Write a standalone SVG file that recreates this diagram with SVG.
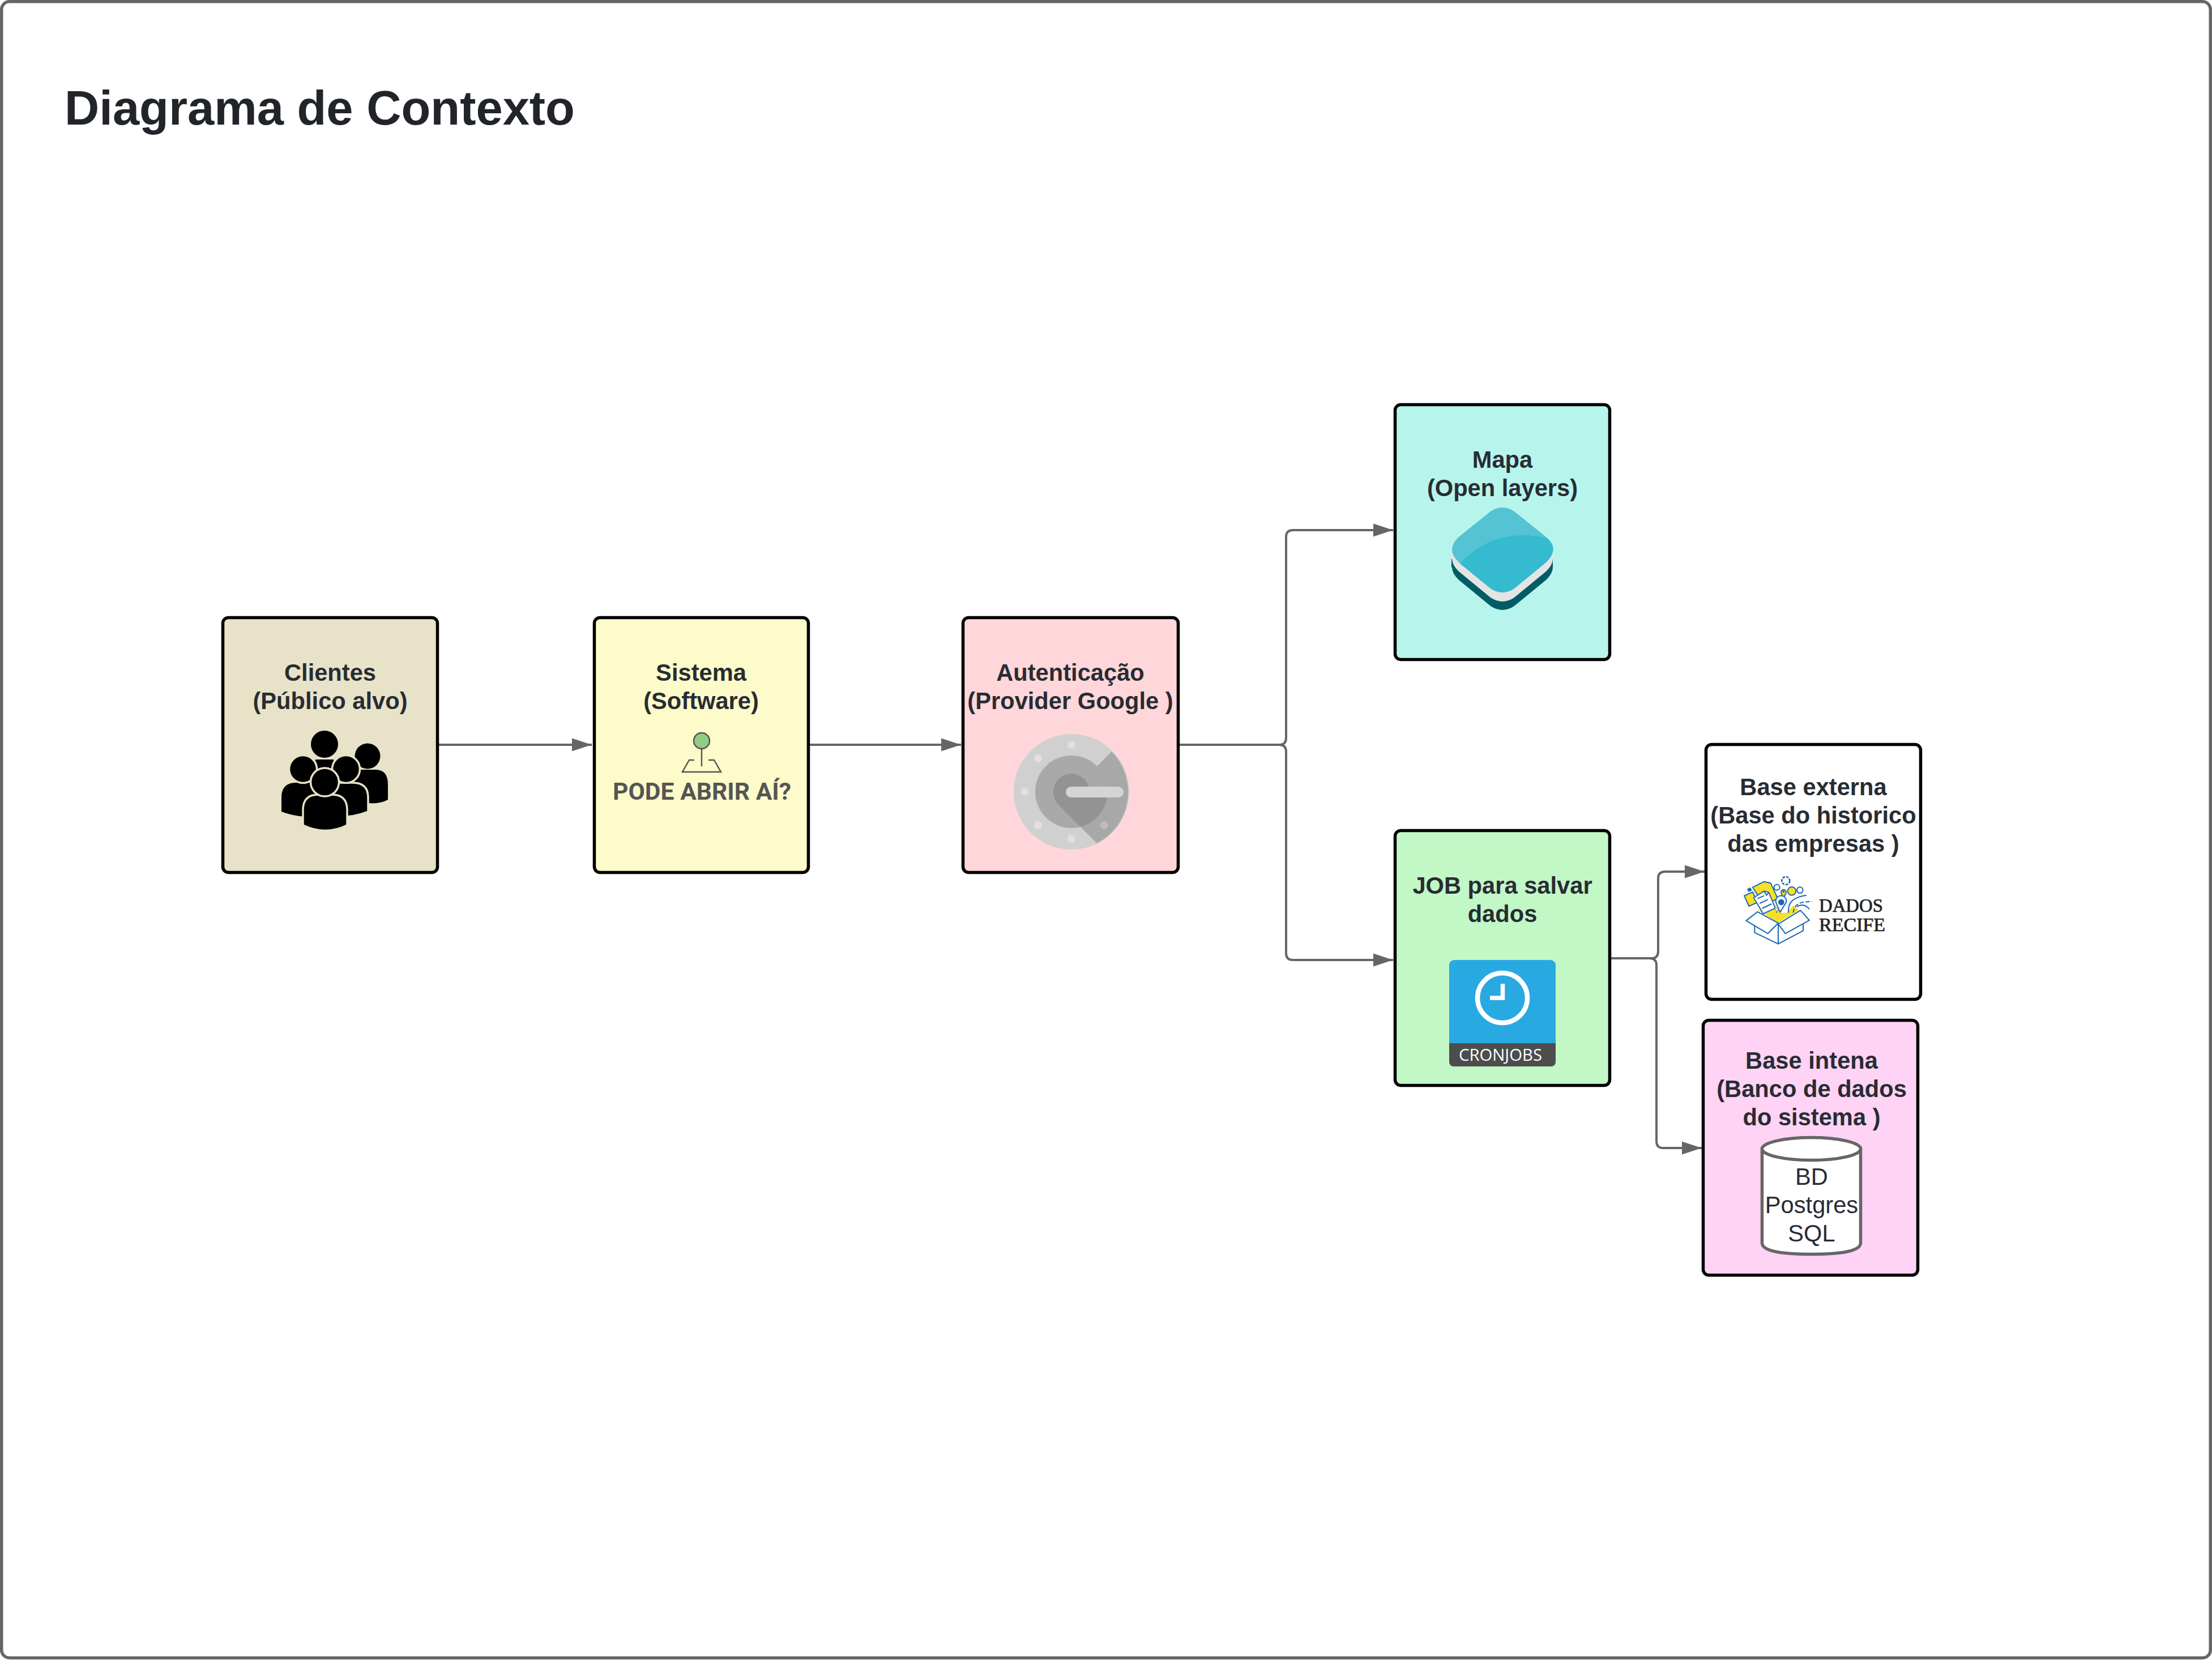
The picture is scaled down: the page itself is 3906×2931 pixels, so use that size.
<svg xmlns="http://www.w3.org/2000/svg" width="3906" height="2931" viewBox="0 0 3906 2931">
<defs>
<style>
.box{stroke:#000;stroke-width:5.5}
.lbl{font:bold 41.67px "Liberation Sans",Arial,sans-serif;fill:#282c33;text-anchor:middle}
.reg{font:41.67px "Liberation Sans",Arial,sans-serif;fill:#282c33;text-anchor:middle}
.conn{fill:none;stroke:#666;stroke-width:4}
.arrowhead{fill:#666}
.lb{fill:none;stroke:#1c66b3;stroke-width:6}
.lbw{fill:#fff;stroke:#1c66b3;stroke-width:6;stroke-linejoin:round}
.lby{fill:#f7e025;stroke:#1c66b3;stroke-width:6;stroke-linejoin:round}
.ppl{fill:#000}
.pplo{fill:#000;stroke:#e8e3c8;stroke-width:3.5}
.dot{fill:#e0e0e0}
.slab{font:33px 'Liberation Serif',serif;fill:#222;stroke:#222;stroke-width:0.7}
</style>
<marker id="arrow" markerUnits="userSpaceOnUse" markerWidth="36" markerHeight="24" refX="35" refY="12" orient="auto"><path class="arrowhead" d="M0 0.5L35 12L0 23.5Z"/></marker>
</defs>
<rect width="3906" height="2931" fill="#fff"/>
<g id="frame"><rect x="2.75" y="2.75" width="3900.500" height="2924.500" rx="14" fill="#fff" stroke="#666" stroke-width="5.500"/></g>
<text id="title" x="114" y="220" style="font:bold 84.9px 'Liberation Sans',Arial,sans-serif;fill:#212529">Diagrama de Contexto</text>

<g id="connectors">
<path class="conn" d="M775 1315H1045" marker-end="url(#arrow)"/>
<path class="conn" d="M1430 1315H1697" marker-end="url(#arrow)"/>
<path class="conn" d="M2083 1315H2259Q2271 1315 2271 1303V948Q2271 936 2283 936H2460" marker-end="url(#arrow)"/>
<path class="conn" d="M2083 1315H2259Q2271 1315 2271 1327V1683Q2271 1695 2283 1695H2460" marker-end="url(#arrow)"/>
<path class="conn" d="M2845 1692H2916Q2928 1692 2928 1680V1551Q2928 1539 2940 1539H3010" marker-end="url(#arrow)"/>
<path class="conn" d="M2845 1692H2913Q2925 1692 2925 1704V2015Q2925 2027 2937 2027H3005" marker-end="url(#arrow)"/>
</g>

<g id="node-clientes">
<rect class="box" x="393.5" y="1090.5" width="379" height="450" rx="10" fill="#e8e3c8"/>
<text class="lbl" x="583" y="1202">Clientes</text>
<text class="lbl" x="583" y="1252">(Público alvo)</text>
<g id="icon-people">
<circle class="ppl" cx="573" cy="1314" r="24"/>
<path class="ppl" d="M557 1341H589L593 1362H553Z"/>
<circle class="ppl" cx="649" cy="1335" r="22.500"/>
<path class="ppl" d="M610 1412V1380Q610 1359 632 1359H663Q685 1359 685 1385V1412Q670 1420 650 1418Z"/>
<path class="ppl" d="M497 1433V1408Q497 1382 523 1382H553Q575 1382 575 1405V1441Q530 1446 497 1433Z"/>
<circle class="pplo" cx="535" cy="1358" r="24.500"/>
<path class="pplo" d="M572 1441V1405Q572 1382 595 1382H623Q650 1382 650 1408V1433Q615 1447 572 1441Z"/>
<circle class="pplo" cx="611" cy="1358" r="24.500"/>
<path class="pplo" d="M535 1457V1430Q535 1403 562 1403H586Q613 1403 613 1430V1457Q575 1476 535 1457Z"/>
<circle class="pplo" cx="573.500" cy="1381" r="25"/>
</g>
</g>

<g id="node-sistema">
<rect class="box" x="1049.500" y="1090.5" width="378" height="450" rx="10" fill="#fdfbc9"/>
<text class="lbl" x="1238" y="1202">Sistema</text>
<text class="lbl" x="1238" y="1252">(Software)</text>
<g id="icon-pode">
<path d="M1239 1322V1353" fill="none" stroke="#555" stroke-width="2.500"/>
<path d="M1226 1342H1217L1205 1363H1273L1261 1342H1251" fill="none" stroke="#555" stroke-width="2.500"/>
<circle cx="1239" cy="1308" r="14" fill="#93cc85" stroke="#555" stroke-width="2.500"/>
<text x="1082" y="1412" textLength="315" lengthAdjust="spacingAndGlyphs" style="font:bold 42px Roboto,'Liberation Sans',sans-serif;fill:#555">PODE ABRIR AÍ?</text>
</g>
</g>

<g id="node-autenticacao">
<rect class="box" x="1700.500" y="1090.5" width="380" height="450" rx="10" fill="#ffd6d9"/>
<text class="lbl" x="1890" y="1202">Autenticação</text>
<text class="lbl" x="1890" y="1252">(Provider Google )</text>
<g id="icon-google">
<circle cx="1892" cy="1398" r="102" fill="#d0d0d0"/>
<path d="M1963 1327A102 102 0 0 1 1937 1489L1892 1444V1398Z" fill="#a8a8a8"/>
<circle cx="1892" cy="1398" r="64" fill="#a9a9a9"/>
<path d="M1892 1366A32 32 0 0 0 1860 1398Q1860 1412 1870 1422L1908 1460A64 64 0 0 0 1955 1407V1398H1924A32 32 0 0 0 1892 1366Z" fill="#939393"/>
<rect x="1882" y="1389" width="102" height="19" rx="9.500" fill="#d4d4d4"/>
<circle class="dot" cx="1892" cy="1315" r="7"/>
<circle class="dot" cx="1833" cy="1339" r="7"/>
<circle class="dot" cx="1809" cy="1398" r="7"/>
<circle class="dot" cx="1833" cy="1457" r="7"/>
<circle class="dot" cx="1892" cy="1481" r="7"/>
<circle cx="1950" cy="1457" r="7" fill="#bcbcbc"/>
</g>
</g>

<g id="node-mapa">
<rect class="box" x="2463.500" y="714.5" width="379" height="450" rx="10" fill="#b7f5ec"/>
<text class="lbl" x="2653" y="826">Mapa</text>
<text class="lbl" x="2653" y="876">(Open layers)</text>
<g id="icon-layers">
<g transform="translate(0,31)" fill="#025c66"><path d="M2632 903Q2653 889 2674 903L2730 948Q2754 970 2730 993L2674 1039Q2653 1053 2632 1039L2576 993Q2552 970 2576 948Z"/></g>
<rect x="2563" y="971" width="179" height="31" fill="#025c66"/>
<rect x="2563" y="971" width="179" height="16" fill="#e3e5e5"/>
<g transform="translate(0,16)" fill="#e3e5e5"><path d="M2632 903Q2653 889 2674 903L2730 948Q2754 970 2730 993L2674 1039Q2653 1053 2632 1039L2576 993Q2552 970 2576 948Z"/></g>
<path fill="#54c3d3" d="M2632 903Q2653 889 2674 903L2730 948Q2754 970 2730 993L2674 1039Q2653 1053 2632 1039L2576 993Q2552 970 2576 948Z"/>
<path fill="#35bacf" d="M2578 995Q2625 945 2690 945Q2715 945 2733 951Q2754 970 2730 993L2674 1039Q2653 1053 2632 1039Z"/>
</g>
</g>

<g id="node-job">
<rect class="box" x="2463.500" y="1466.5" width="379" height="450" rx="10" fill="#c2f7c6"/>
<text class="lbl" x="2653" y="1578">JOB para salvar</text>
<text class="lbl" x="2653" y="1628">dados</text>
<g id="icon-cron">
<rect x="2559" y="1695" width="188" height="188" rx="9" fill="#29a9e1"/>
<path d="M2559 1842H2747V1874Q2747 1883 2738 1883H2568Q2559 1883 2559 1874Z" fill="#4d4d4d"/>
<circle cx="2653" cy="1762" r="44" fill="none" stroke="#fff" stroke-width="8.500"/>
<path d="M2653.500 1737V1762H2631" fill="none" stroke="#fff" stroke-width="7.500"/>
<text x="2576" y="1873" textLength="147" lengthAdjust="spacingAndGlyphs" style="font:29px 'Open Sans','Liberation Sans',sans-serif;fill:#fff">CRONJOBS</text>
</g>
</g>

<g id="node-base-externa">
<rect class="box" x="3012.500" y="1314.5" width="379" height="450" rx="10" fill="#fff"/>
<text class="lbl" x="3202" y="1404">Base externa</text>
<text class="lbl" x="3202" y="1454">(Base do historico</text>
<text class="lbl" x="3202" y="1504">das empresas )</text>
<g id="icon-dados">
<g transform="translate(3060,1530) scale(0.3333)">
<path fill="#f7e025" d="M135 232L240 298L350 230L320 205L285 245L255 245L225 205Z"/>
<path class="lby" d="M105 110L165 80L200 88L238 170L165 205Z"/>
<path class="lby" d="M60 155L105 135L130 190L85 210Z"/>
<rect x="78" y="114" width="20" height="18" fill="#1c66b3" transform="rotate(-25 88 123)"/>
<path class="lbw" d="M110 165L165 130L190 137L225 220L160 250Z"/>
<path class="lb" d="M165 130L178 152L190 137M130 170L165 155M142 195L185 175M155 222L205 198"/>
<circle class="lbw" cx="233" cy="110" r="15"/>
<path class="lby" d="M255 140A14 14 0 1 1 282 140L268 165Z"/>
<circle cx="268" cy="133" r="6" fill="#1c66b3"/>
<circle class="lby" cx="312" cy="130" r="22"/>
<circle class="lbw" cx="355" cy="125" r="16"/>
<circle cx="280" cy="75" r="21" fill="none" stroke="#1c66b3" stroke-width="8" stroke-dasharray="14 6"/>
<path class="lbw" d="M228 190A28 28 0 1 1 282 190L250 242Z"/>
<circle cx="256" cy="189" r="16" fill="#1c66b3"/>
<path d="M220 208L245 235L234 233L232 246Z" fill="#fff" stroke="#444" stroke-width="2"/>
<path class="lb" d="M295 245Q285 165 390 152"/>
<path class="lb" stroke-dasharray="22 10" d="M320 245Q325 180 420 187"/>
<path class="lb" d="M340 213Q375 190 405 225"/>
<path class="lbw" d="M70 287L130 240L240 300L185 355Z"/>
<path class="lbw" d="M240 305L358 232L405 285L278 355Z"/>
<path class="lb" d="M115 315V350L240 410L372 340V305M240 305V410"/>
</g>
<text class="slab" x="3212" y="1610" textLength="113" lengthAdjust="spacingAndGlyphs">DADOS</text>
<text class="slab" x="3212" y="1644" textLength="117" lengthAdjust="spacingAndGlyphs">RECIFE</text>
</g>
</g>

<g id="node-base-intena">
<rect class="box" x="3007.500" y="1801.5" width="379" height="450" rx="10" fill="#fed3f5"/>
<text class="lbl" x="3199" y="1887">Base intena</text>
<text class="lbl" x="3199" y="1937">(Banco de dados</text>
<text class="lbl" x="3199" y="1987">do sistema )</text>
<g id="cylinder">
<path d="M3111.500 2028.500V2194.500Q3111.500 2214.500 3198.500 2214.500Q3285.500 2214.500 3285.500 2194.500V2028.500Z" fill="#fff" stroke="#666" stroke-width="5.500"/>
<ellipse cx="3198.500" cy="2028.500" rx="87" ry="20" fill="#fff" stroke="#666" stroke-width="5.500"/>
<text class="reg" x="3199" y="2092">BD</text>
<text class="reg" x="3199" y="2142">Postgres</text>
<text class="reg" x="3199" y="2192">SQL</text>
</g>
</g>
</svg>
